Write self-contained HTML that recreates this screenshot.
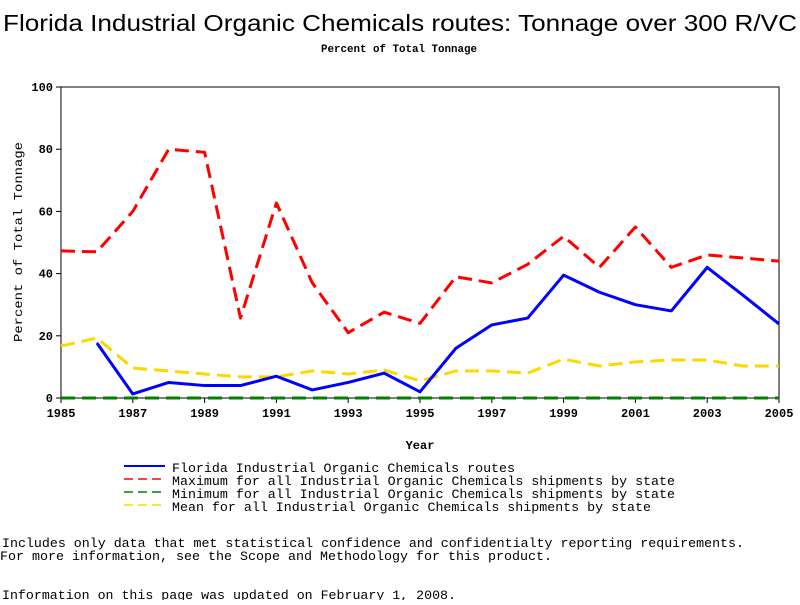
<!DOCTYPE html>
<html><head><meta charset="utf-8"><style>
body{margin:0;background:#fff;width:800px;height:600px;overflow:hidden}
svg text{font-family:"Liberation Mono",monospace;fill:#000}
</style></head><body>
<svg id="chart" width="800" height="600" viewBox="0 0 800 600" xmlns="http://www.w3.org/2000/svg">
<text x="400" y="31" text-anchor="middle" style="font-family:'Liberation Sans',sans-serif;font-size:23px" textLength="794" lengthAdjust="spacingAndGlyphs">Florida Industrial Organic Chemicals routes: Tonnage over 300 R/VC</text>
<text x="399" y="52" text-anchor="middle" style="font-size:11px;font-weight:bold" textLength="156" lengthAdjust="spacingAndGlyphs">Percent of Total Tonnage</text>
<g id="plot"></g>
<text x="420" y="449" text-anchor="middle" style="font-size:12px;font-weight:bold">Year</text>
<text transform="translate(22,242) rotate(-90)" text-anchor="middle" style="font-size:12px" textLength="200" lengthAdjust="spacingAndGlyphs">Percent of Total Tonnage</text>
<g>
<line x1="124" y1="466" x2="165" y2="466" stroke="#0000ff" stroke-width="2"/>
<text x="172" y="472" style="font-size:13px" textLength="343" lengthAdjust="spacingAndGlyphs">Florida Industrial Organic Chemicals routes</text>
<line x1="124" y1="479" x2="165" y2="479" stroke="#ff0000" stroke-width="1.5" stroke-dasharray="9,5"/>
<text x="172" y="485" style="font-size:13px" textLength="503" lengthAdjust="spacingAndGlyphs">Maximum for all Industrial Organic Chemicals shipments by state</text>
<line x1="124" y1="492" x2="165" y2="492" stroke="#008000" stroke-width="1.5" stroke-dasharray="9,5"/>
<text x="172" y="498" style="font-size:13px" textLength="503" lengthAdjust="spacingAndGlyphs">Minimum for all Industrial Organic Chemicals shipments by state</text>
<line x1="124" y1="505" x2="165" y2="505" stroke="#ffd700" stroke-width="1.5" stroke-dasharray="9,5"/>
<text x="172" y="511" style="font-size:13px" textLength="479" lengthAdjust="spacingAndGlyphs">Mean for all Industrial Organic Chemicals shipments by state</text>
</g>
<text x="2" y="547" style="font-size:13px" textLength="742" lengthAdjust="spacingAndGlyphs">Includes only data that met statistical confidence and confidentialty reporting requirements.</text>
<text x="0" y="560" style="font-size:13px" textLength="552" lengthAdjust="spacingAndGlyphs">For more information, see the Scope and Methodology for this product.</text>
<text x="2" y="599" style="font-size:13px" textLength="454" lengthAdjust="spacingAndGlyphs">Information on this page was updated on February 1, 2008.</text>
</svg>
<script>
const years=[1985,1986,1987,1988,1989,1990,1991,1992,1993,1994,1995,1996,1997,1998,1999,2000,2001,2002,2003,2004,2005];
const floridaYears=[1986,1987,1988,1989,1990,1991,1992,1993,1994,1995,1996,1997,1998,1999,2000,2001,2002,2003,2004,2005];
const floridaValues=[17.7,1.3,5,4,4,7,2.6,5,8,2,16,23.5,25.7,39.5,34,30,28,42,33,23.8];
const maxValues=[47.3,47,60,80,79,25.7,62.7,37,21,27.6,24,39,37,43,52,42,55,42,46,45,44];
const minValues=[0,0,0,0,0,0,0,0,0,0,0,0,0,0,0,0,0,0,0,0,0];
const meanValues=[16.7,19.3,9.6,8.7,7.7,6.8,6.8,8.7,7.7,9,5.5,8.7,8.7,8,12.5,10.3,11.6,12.2,12.2,10.3,10.3];
const xTicks=[1985,1987,1989,1991,1993,1995,1997,1999,2001,2003,2005];
const yTicks=[0,20,40,60,80,100];

const NS="http://www.w3.org/2000/svg";
const X0=61,X1=779,Y0=398,Y1=87;
function xs(v){return X0+(v-1985)/(2005-1985)*(X1-X0);}
function ys(v){return Y0-v/100*(Y0-Y1);}
const g=document.getElementById('plot');
function mk(t,a){const e=document.createElementNS(NS,t);for(const k in a)e.setAttribute(k,a[k]);g.appendChild(e);return e;}
const frame=mk('rect',{x:X0,y:Y1,width:X1-X0,height:Y0-Y1,fill:'none',stroke:'#000','stroke-width':1});


for(const t of xTicks){
  const l=mk('line',{x1:xs(t),x2:xs(t),y1:Y0,y2:Y0+5,stroke:'#000'});
  
  
  const tx=mk('text',{x:xs(t),y:Y0+19,'text-anchor':'middle',style:'font-size:12px;font-weight:bold'});
  tx.textContent=t;
  
  
}
for(const t of yTicks){
  const l=mk('line',{x1:X0-5,x2:X0,y1:ys(t),y2:ys(t),stroke:'#000'});
  
  
  const tx=mk('text',{x:X0-8,y:ys(t)+4,'text-anchor':'end',style:'font-size:12px;font-weight:bold'});
  tx.textContent=t;
  
  
}
function series(xv,yv,color,w,dash,name){
  const p=mk('polyline',{points:xv.map((x,i)=>xs(x)+','+ys(yv[i])).join(' '),fill:'none',stroke:color,'stroke-width':w,'stroke-linejoin':'round'});
  if(dash)p.setAttribute('stroke-dasharray',dash);
  
  
}
series(years,minValues,'#008000',3,'14,7','min-line');
series(years,meanValues,'#ffd700',3,'14,7','mean-line');
series(years,maxValues,'#ff0000',3,'14,7','max-line');
series(floridaYears,floridaValues,'#0000ff',3,null,'florida-line');
</script>
</body></html>
